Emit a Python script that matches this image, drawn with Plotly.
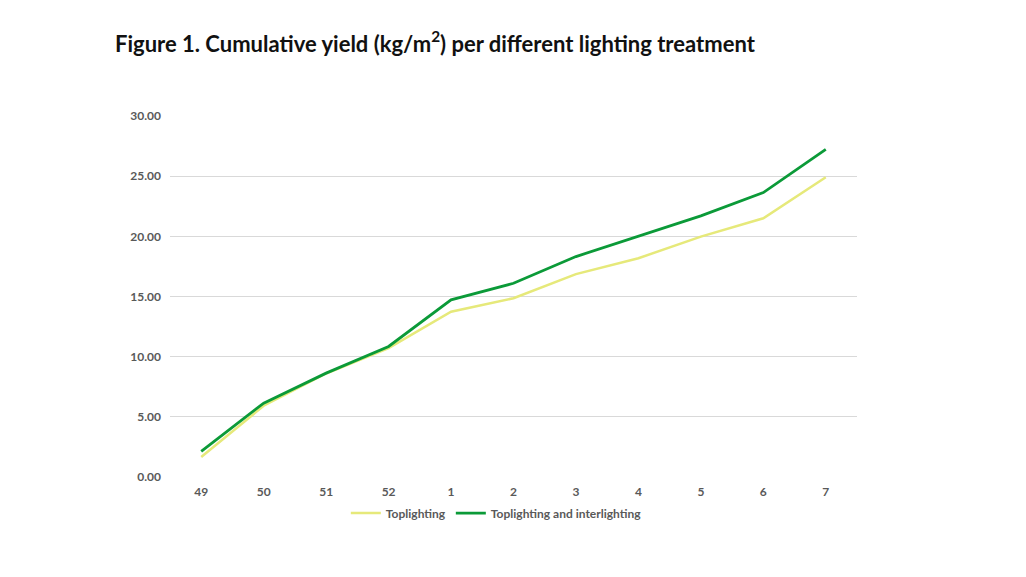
import plotly.graph_objects as go

weeks = ["49", "50", "51", "52", "1", "2", "3", "4", "5", "6", "7"]
toplighting = [1.66, 5.92, 8.6, 10.71, 13.73, 14.86, 16.86, 18.18, 19.98, 21.5, 24.91]
top_inter = [2.13, 6.14, 8.63, 10.85, 14.72, 16.1, 18.32, 19.98, 21.7, 23.64, 27.23]
y_ticks = [0, 5, 10, 15, 20, 25, 30]

fig = go.Figure()
fig.add_trace(go.Scatter(x=weeks, y=toplighting, mode="lines", name="Toplighting",
                         line=dict(color="#E6E97A", width=2.5)))
fig.add_trace(go.Scatter(x=weeks, y=top_inter, mode="lines", name="Toplighting and interlighting",
                         line=dict(color="#0B9A38", width=2.8)))

fig.update_layout(
    width=1026, height=577,
    paper_bgcolor="white", plot_bgcolor="white",
    margin=dict(l=162, r=177, t=108, b=108),
    title=dict(text="Figure 1. Cumulative yield (kg/m<sup>2</sup>) per different lighting treatment",
               x=107/1026, xanchor="left", y=1-36/577, yanchor="middle",
               font=dict(family="Lato", size=22, color="#111111", weight="bold")),
    showlegend=True,
    legend=dict(orientation="h", x=0.475, xanchor="center", y=-0.1, yanchor="middle",
                font=dict(family="Lato", size=12, color="#595959", weight="bold"),
                itemwidth=30, tracegroupgap=0),
    xaxis=dict(type="category", range=[-0.5, 10.5], showgrid=False, zeroline=False,
               showline=False, ticks="", ticklabelstandoff=6,
               tickfont=dict(family="Lato", size=12, color="#595959", weight="bold")),
    yaxis=dict(range=[0, 30], tickvals=y_ticks, tickformat=".2f", showgrid=True,
               gridcolor="#D9D9D9", gridwidth=1, zeroline=False, showline=False,
               ticks="", ticklabelstandoff=8,
               tickfont=dict(family="Lato", size=12, color="#595959", weight="bold")),
)

fig.write_html("out.html")
